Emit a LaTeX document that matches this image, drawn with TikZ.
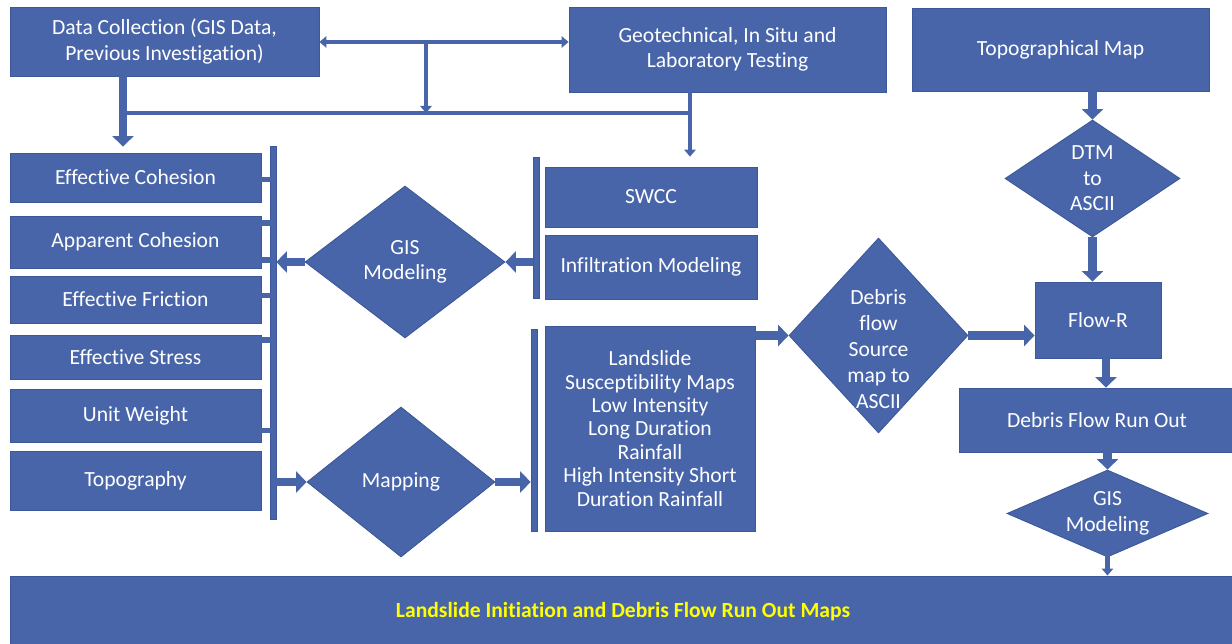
\documentclass[tikz,border=0pt]{standalone}
\usepackage{fontspec}
\setmainfont{Carlito}[Ligatures=NoCommon]
\usetikzlibrary{arrows.meta,shapes.geometric,calc}

\definecolor{boxblue}{RGB}{72,101,170}
\definecolor{boxedge}{RGB}{60,88,152}
\definecolor{mapyellow}{RGB}{255,255,0}

\tikzset{
  box/.style={rectangle, fill=boxblue, draw=boxedge, line width=0.5pt, text=white,
    align=center, inner sep=0pt, font=\fontsize{12.3}{14.5}\selectfont},
  decision/.style={diamond, fill=boxblue, draw=boxedge, line width=0.5pt, text=white,
    align=center, inner sep=0pt, font=\fontsize{12.3}{14.5}\selectfont},
  bar/.style={rectangle, fill=boxblue, draw=boxedge, line width=0.4pt,
    minimum width=0.12cm, inner sep=0pt},
  fatarrow/.style={draw=boxblue, line width=5pt, -{Triangle[length=6pt,width=12pt]}},
  link/.style={draw=boxblue, line width=2.3pt},
  stub/.style={draw=boxblue, line width=3pt},
  tip/.style={-{Triangle[length=4pt,width=6.5pt]}},
}

\begin{document}
\begin{tikzpicture}[x=0.02cm, y=-0.02cm]
\useasboundingbox (0,0) rectangle (1232,644);

%% top row
\node[box, minimum width=6.18cm, minimum height=1.38cm] (datacoll) at (164.5,41.5)
  {Data Collection (GIS Data,\\Previous Investigation)};
\node[box, minimum width=6.34cm, minimum height=1.70cm] (geotech) at (727.5,49.5)
  {Geotechnical, In Situ and\\Laboratory Testing};
\node[box, minimum width=5.94cm, minimum height=1.66cm] (topomap) at (1060.5,49.5)
  {Topographical Map};

%% soil parameters
\node[box, minimum width=5.02cm, minimum height=0.98cm] (effcoh)    at (135.5,177.5) {Effective Cohesion};
\node[box, minimum width=5.02cm, minimum height=1.04cm] (appcoh)    at (135.5,242)   {Apparent Cohesion};
\node[box, minimum width=5.02cm, minimum height=0.94cm] (efffric)   at (135.5,299.5) {Effective Friction};
\node[box, minimum width=5.02cm, minimum height=0.88cm] (effstress) at (135.5,357)   {Effective Stress};
\node[box, minimum width=5.02cm, minimum height=1.06cm] (unitwt)    at (135.5,415.5) {Unit Weight};
\node[box, minimum width=5.02cm, minimum height=1.18cm] (topog)     at (135.5,480.5) {Topography};

%% bars
\node[bar, minimum height=7.46cm] (leftbar) at (273,332.5) {};
\node[bar, minimum height=2.82cm] (swccbar) at (536,227.5) {};
\node[bar, minimum height=4.04cm] (mapbar)  at (534,430)   {};

%% middle
\node[decision, aspect=1, minimum width=4.0cm, minimum height=3.04cm] (gisleft) at (405,262)
  {GIS\\Modeling};
\node[decision, aspect=1, minimum width=3.76cm, minimum height=3.0cm] (mapping) at (401,482)
  {Mapping};
\node[box, minimum width=4.24cm, minimum height=1.2cm]  (swcc)  at (651,197) {SWCC};
\node[box, minimum width=4.24cm, minimum height=1.28cm] (infil) at (651,267) {Infiltration Modeling};
\node[box, minimum width=4.2cm, minimum height=4.1cm, font=\fontsize{12.3}{13.3}\selectfont]
  (landslide) at (650,428.5)
  {Landslide\\Susceptibility Maps\\Low Intensity\\Long Duration\\Rainfall\\High Intensity Short\\Duration Rainfall};
% text sits low in this diamond, so it goes in as a label
\node[decision, minimum width=3.58cm, minimum height=3.9cm,
  label={[align=center, text=white, font=\fontsize{12.3}{14.8}\selectfont, yshift=-0.28cm]center:{Debris\\flow\\Source\\map to\\ASCII}}]
  (debris) at (878.5,335.5) {};

%% run out branch
\node[decision, aspect=1.5, minimum width=3.5cm, minimum height=2.34cm] (dtm) at (1092.5,178.5)
  {DTM\\to\\ASCII};
\node[box, minimum width=2.52cm, minimum height=1.52cm] (flowr)  at (1098,320) {Flow-R};
\node[box, minimum width=5.52cm, minimum height=1.28cm] (runout) at (1097,420) {Debris Flow Run Out};
\node[decision, aspect=2.3, minimum width=4.02cm, minimum height=1.74cm] (gisright) at (1107.5,513.5)
  {GIS\\Modeling};

%% output
\node[box, minimum width=24.52cm, minimum height=1.44cm, text=mapyellow,
  font=\fontsize{12.3}{14}\selectfont\bfseries] (outmap) at (623,612)
  {Landslide Initiation and Debris Flow Run Out Maps};

%% data links
\coordinate (split) at (426,42);
\coordinate (junction) at (426,113);
\coordinate (busL) at (123,113);
\coordinate (busR) at (690,113);
\draw[link, {Triangle[length=4pt,width=6.5pt]}-{Triangle[length=4pt,width=6.5pt]}]
  (datacoll.east |- split) -- (geotech.west |- split);
\draw[link, tip] (split) -- (junction);
\draw[link] (busL) -- (busR);
\draw[fatarrow, shorten >=0.12cm] (datacoll.south -| busL) -- (busL |- effcoh.north);
\draw[link, tip] (geotech.south -| busR) -- (busR |- swccbar.north);

%% stubs into the left bar
\foreach \b/\dy in {effcoh/2, appcoh/-19, appcoh/18, efffric/-4, effstress/-17, unitwt/15}
  \draw[stub] ($(\b.east)+(0,\dy)$) -- +(10,0);

%% flow arrows
\draw[fatarrow] (gisleft.west) -- (gisleft.west -| leftbar.east);
\draw[fatarrow] (swccbar.west |- gisleft.east) -- (gisleft.east);
\draw[fatarrow] (leftbar.east |- mapping.west) -- (mapping.west);
\draw[fatarrow] (mapping.east) -- (mapping.east -| mapbar.west);
\draw[fatarrow] (landslide.east |- debris.west) -- (debris.west);
\draw[fatarrow] (debris.east) -- (debris.east -| flowr.west);
\draw[fatarrow] (dtm.north |- topomap.south) -- (dtm.north);
\draw[fatarrow] (dtm.south) -- (dtm.south |- flowr.north);
\draw[fatarrow] ([xshift=0.16cm]flowr.south) -- ([xshift=0.16cm]flowr.south |- runout.north);
\draw[fatarrow] (gisright.north |- runout.south) -- (gisright.north);
\draw[link, tip] ([yshift=0.18cm]gisright.south) -- (gisright.south |- outmap.north);

\end{tikzpicture}
\end{document}
